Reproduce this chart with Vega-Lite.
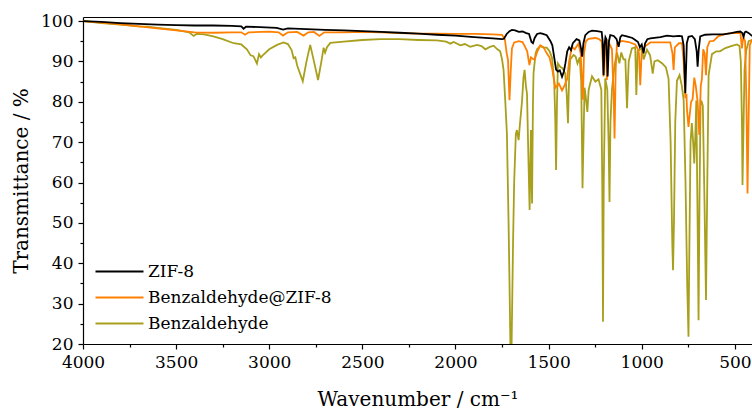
{
  "$schema": "https://vega.github.io/schema/vega-lite/v6.json",
  "width": 669,
  "height": 327,
  "autosize": {"type": "none"},
  "padding": {"left": 83, "top": 17, "right": 0, "bottom": 67},
  "background": "white",
  "config": {
    "view": {"stroke": null},
    "font": "DejaVu Serif",
    "axis": {"domainColor": "black", "domainWidth": 1.2, "tickColor": "black", "tickWidth": 1.2, "labelColor": "black", "titleColor": "black", "labelFont": "DejaVu Serif", "titleFont": "DejaVu Serif", "labelFontSize": 17, "titleFontSize": 20, "titleFontWeight": "normal", "grid": false},
    "legend": {"labelFont": "DejaVu Serif"}
  },
  "datasets": {
    "spec": [
      {"s":"Benzaldehyde","w":4000,"t":100.0},{"s":"Benzaldehyde","w":3900,"t":99.5},{"s":"Benzaldehyde","w":3800,"t":99.1},{"s":"Benzaldehyde","w":3700,"t":98.7},{"s":"Benzaldehyde","w":3656,"t":98.6},{"s":"Benzaldehyde","w":3600,"t":98.3},{"s":"Benzaldehyde","w":3500,"t":97.8},{"s":"Benzaldehyde","w":3430,"t":97.2},{"s":"Benzaldehyde","w":3406,"t":96.3},{"s":"Benzaldehyde","w":3390,"t":96.8},{"s":"Benzaldehyde","w":3350,"t":96.7},{"s":"Benzaldehyde","w":3300,"t":96.2},{"s":"Benzaldehyde","w":3250,"t":95.5},{"s":"Benzaldehyde","w":3191,"t":94.5},{"s":"Benzaldehyde","w":3150,"t":94.2},{"s":"Benzaldehyde","w":3120,"t":93.0},{"s":"Benzaldehyde","w":3100,"t":91.5},{"s":"Benzaldehyde","w":3085,"t":91.3},{"s":"Benzaldehyde","w":3066,"t":89.5},{"s":"Benzaldehyde","w":3055,"t":91.8},{"s":"Benzaldehyde","w":3045,"t":91.0},{"s":"Benzaldehyde","w":3035,"t":91.5},{"s":"Benzaldehyde","w":3000,"t":93.0},{"s":"Benzaldehyde","w":2958,"t":94.1},{"s":"Benzaldehyde","w":2923,"t":94.7},{"s":"Benzaldehyde","w":2900,"t":94.3},{"s":"Benzaldehyde","w":2880,"t":92.8},{"s":"Benzaldehyde","w":2869,"t":90.8},{"s":"Benzaldehyde","w":2860,"t":91.0},{"s":"Benzaldehyde","w":2850,"t":89.0},{"s":"Benzaldehyde","w":2820,"t":85.1},{"s":"Benzaldehyde","w":2800,"t":90.0},{"s":"Benzaldehyde","w":2780,"t":94.1},{"s":"Benzaldehyde","w":2760,"t":90.0},{"s":"Benzaldehyde","w":2738,"t":85.4},{"s":"Benzaldehyde","w":2720,"t":90.0},{"s":"Benzaldehyde","w":2708,"t":93.4},{"s":"Benzaldehyde","w":2700,"t":92.2},{"s":"Benzaldehyde","w":2690,"t":93.5},{"s":"Benzaldehyde","w":2672,"t":94.6},{"s":"Benzaldehyde","w":2600,"t":94.9},{"s":"Benzaldehyde","w":2500,"t":95.3},{"s":"Benzaldehyde","w":2404,"t":95.5},{"s":"Benzaldehyde","w":2300,"t":95.5},{"s":"Benzaldehyde","w":2200,"t":95.3},{"s":"Benzaldehyde","w":2100,"t":95.2},{"s":"Benzaldehyde","w":2050,"t":94.9},{"s":"Benzaldehyde","w":2028,"t":94.4},{"s":"Benzaldehyde","w":2010,"t":94.8},{"s":"Benzaldehyde","w":1974,"t":94.0},{"s":"Benzaldehyde","w":1950,"t":94.3},{"s":"Benzaldehyde","w":1921,"t":93.6},{"s":"Benzaldehyde","w":1885,"t":94.1},{"s":"Benzaldehyde","w":1860,"t":93.8},{"s":"Benzaldehyde","w":1840,"t":93.0},{"s":"Benzaldehyde","w":1815,"t":93.6},{"s":"Benzaldehyde","w":1795,"t":93.9},{"s":"Benzaldehyde","w":1775,"t":93.0},{"s":"Benzaldehyde","w":1760,"t":92.5},{"s":"Benzaldehyde","w":1750,"t":90.5},{"s":"Benzaldehyde","w":1742,"t":87.9},{"s":"Benzaldehyde","w":1733,"t":80.4},{"s":"Benzaldehyde","w":1724,"t":72.2},{"s":"Benzaldehyde","w":1715,"t":50.0},{"s":"Benzaldehyde","w":1710,"t":35.0},{"s":"Benzaldehyde","w":1705,"t":19.0},{"s":"Benzaldehyde","w":1699,"t":19.0},{"s":"Benzaldehyde","w":1691,"t":45.0},{"s":"Benzaldehyde","w":1685,"t":60.0},{"s":"Benzaldehyde","w":1676,"t":72.0},{"s":"Benzaldehyde","w":1670,"t":73.0},{"s":"Benzaldehyde","w":1665,"t":71.5},{"s":"Benzaldehyde","w":1661,"t":70.5},{"s":"Benzaldehyde","w":1655,"t":74.0},{"s":"Benzaldehyde","w":1643,"t":80.0},{"s":"Benzaldehyde","w":1635,"t":86.0},{"s":"Benzaldehyde","w":1629,"t":87.9},{"s":"Benzaldehyde","w":1622,"t":84.0},{"s":"Benzaldehyde","w":1616,"t":81.9},{"s":"Benzaldehyde","w":1608,"t":65.0},{"s":"Benzaldehyde","w":1602,"t":53.2},{"s":"Benzaldehyde","w":1595,"t":73.0},{"s":"Benzaldehyde","w":1589,"t":54.8},{"s":"Benzaldehyde","w":1584,"t":80.0},{"s":"Benzaldehyde","w":1581,"t":87.1},{"s":"Benzaldehyde","w":1570,"t":92.0},{"s":"Benzaldehyde","w":1562,"t":93.0},{"s":"Benzaldehyde","w":1545,"t":93.8},{"s":"Benzaldehyde","w":1527,"t":93.4},{"s":"Benzaldehyde","w":1510,"t":93.4},{"s":"Benzaldehyde","w":1495,"t":92.5},{"s":"Benzaldehyde","w":1482,"t":91.0},{"s":"Benzaldehyde","w":1470,"t":85.0},{"s":"Benzaldehyde","w":1464,"t":75.0},{"s":"Benzaldehyde","w":1460,"t":63.1},{"s":"Benzaldehyde","w":1455,"t":80.0},{"s":"Benzaldehyde","w":1450,"t":89.5},{"s":"Benzaldehyde","w":1437,"t":88.6},{"s":"Benzaldehyde","w":1425,"t":88.3},{"s":"Benzaldehyde","w":1411,"t":87.0},{"s":"Benzaldehyde","w":1403,"t":82.0},{"s":"Benzaldehyde","w":1396,"t":74.7},{"s":"Benzaldehyde","w":1390,"t":86.0},{"s":"Benzaldehyde","w":1384,"t":90.5},{"s":"Benzaldehyde","w":1366,"t":91.6},{"s":"Benzaldehyde","w":1355,"t":91.2},{"s":"Benzaldehyde","w":1345,"t":89.5},{"s":"Benzaldehyde","w":1333,"t":91.0},{"s":"Benzaldehyde","w":1325,"t":85.0},{"s":"Benzaldehyde","w":1318,"t":58.6},{"s":"Benzaldehyde","w":1311,"t":75.0},{"s":"Benzaldehyde","w":1307,"t":83.5},{"s":"Benzaldehyde","w":1300,"t":81.0},{"s":"Benzaldehyde","w":1292,"t":77.5},{"s":"Benzaldehyde","w":1285,"t":83.0},{"s":"Benzaldehyde","w":1267,"t":86.3},{"s":"Benzaldehyde","w":1249,"t":85.0},{"s":"Benzaldehyde","w":1232,"t":85.6},{"s":"Benzaldehyde","w":1217,"t":83.0},{"s":"Benzaldehyde","w":1212,"t":60.0},{"s":"Benzaldehyde","w":1208,"t":25.5},{"s":"Benzaldehyde","w":1204,"t":60.0},{"s":"Benzaldehyde","w":1196,"t":85.8},{"s":"Benzaldehyde","w":1185,"t":83.0},{"s":"Benzaldehyde","w":1178,"t":70.0},{"s":"Benzaldehyde","w":1173,"t":55.2},{"s":"Benzaldehyde","w":1168,"t":75.0},{"s":"Benzaldehyde","w":1160,"t":83.0},{"s":"Benzaldehyde","w":1146,"t":89.1},{"s":"Benzaldehyde","w":1133,"t":92.2},{"s":"Benzaldehyde","w":1120,"t":89.5},{"s":"Benzaldehyde","w":1110,"t":92.2},{"s":"Benzaldehyde","w":1098,"t":90.5},{"s":"Benzaldehyde","w":1088,"t":90.5},{"s":"Benzaldehyde","w":1079,"t":78.4},{"s":"Benzaldehyde","w":1070,"t":90.0},{"s":"Benzaldehyde","w":1053,"t":93.2},{"s":"Benzaldehyde","w":1035,"t":93.5},{"s":"Benzaldehyde","w":1029,"t":81.7},{"s":"Benzaldehyde","w":1022,"t":92.5},{"s":"Benzaldehyde","w":999,"t":93.2},{"s":"Benzaldehyde","w":990,"t":90.5},{"s":"Benzaldehyde","w":972,"t":92.9},{"s":"Benzaldehyde","w":955,"t":91.5},{"s":"Benzaldehyde","w":941,"t":87.0},{"s":"Benzaldehyde","w":932,"t":90.0},{"s":"Benzaldehyde","w":914,"t":90.3},{"s":"Benzaldehyde","w":890,"t":89.5},{"s":"Benzaldehyde","w":870,"t":88.5},{"s":"Benzaldehyde","w":856,"t":85.7},{"s":"Benzaldehyde","w":845,"t":70.0},{"s":"Benzaldehyde","w":836,"t":45.0},{"s":"Benzaldehyde","w":832,"t":38.3},{"s":"Benzaldehyde","w":827,"t":50.0},{"s":"Benzaldehyde","w":820,"t":75.0},{"s":"Benzaldehyde","w":811,"t":85.2},{"s":"Benzaldehyde","w":797,"t":86.6},{"s":"Benzaldehyde","w":785,"t":84.0},{"s":"Benzaldehyde","w":775,"t":80.5},{"s":"Benzaldehyde","w":765,"t":60.0},{"s":"Benzaldehyde","w":756,"t":35.0},{"s":"Benzaldehyde","w":749,"t":21.8},{"s":"Benzaldehyde","w":744,"t":45.0},{"s":"Benzaldehyde","w":738,"t":70.0},{"s":"Benzaldehyde","w":731,"t":74.7},{"s":"Benzaldehyde","w":724,"t":70.0},{"s":"Benzaldehyde","w":718,"t":64.7},{"s":"Benzaldehyde","w":712,"t":72.0},{"s":"Benzaldehyde","w":707,"t":80.3},{"s":"Benzaldehyde","w":700,"t":50.0},{"s":"Benzaldehyde","w":695,"t":25.9},{"s":"Benzaldehyde","w":690,"t":55.0},{"s":"Benzaldehyde","w":684,"t":80.3},{"s":"Benzaldehyde","w":678,"t":80.0},{"s":"Benzaldehyde","w":672,"t":79.0},{"s":"Benzaldehyde","w":663,"t":55.0},{"s":"Benzaldehyde","w":655,"t":30.9},{"s":"Benzaldehyde","w":648,"t":60.0},{"s":"Benzaldehyde","w":641,"t":86.6},{"s":"Benzaldehyde","w":623,"t":91.8},{"s":"Benzaldehyde","w":600,"t":92.5},{"s":"Benzaldehyde","w":580,"t":92.5},{"s":"Benzaldehyde","w":551,"t":93.3},{"s":"Benzaldehyde","w":520,"t":93.8},{"s":"Benzaldehyde","w":489,"t":94.2},{"s":"Benzaldehyde","w":475,"t":93.8},{"s":"Benzaldehyde","w":468,"t":90.0},{"s":"Benzaldehyde","w":462,"t":75.0},{"s":"Benzaldehyde","w":459,"t":59.4},{"s":"Benzaldehyde","w":455,"t":70.0},{"s":"Benzaldehyde","w":448,"t":88.0},{"s":"Benzaldehyde","w":439,"t":92.7},{"s":"Benzaldehyde","w":426,"t":95.0},{"s":"Benzaldehyde","w":407,"t":95.3},

      {"s":"Benzaldehyde@ZIF-8","w":4000,"t":100.0},{"s":"Benzaldehyde@ZIF-8","w":3900,"t":99.6},{"s":"Benzaldehyde@ZIF-8","w":3800,"t":99.2},{"s":"Benzaldehyde@ZIF-8","w":3700,"t":98.7},{"s":"Benzaldehyde@ZIF-8","w":3600,"t":98.2},{"s":"Benzaldehyde@ZIF-8","w":3500,"t":97.7},{"s":"Benzaldehyde@ZIF-8","w":3400,"t":97.2},{"s":"Benzaldehyde@ZIF-8","w":3300,"t":97.1},{"s":"Benzaldehyde@ZIF-8","w":3200,"t":97.2},{"s":"Benzaldehyde@ZIF-8","w":3150,"t":97.2},{"s":"Benzaldehyde@ZIF-8","w":3130,"t":96.6},{"s":"Benzaldehyde@ZIF-8","w":3110,"t":97.2},{"s":"Benzaldehyde@ZIF-8","w":3000,"t":97.4},{"s":"Benzaldehyde@ZIF-8","w":2950,"t":97.2},{"s":"Benzaldehyde@ZIF-8","w":2926,"t":96.4},{"s":"Benzaldehyde@ZIF-8","w":2900,"t":97.2},{"s":"Benzaldehyde@ZIF-8","w":2850,"t":97.3},{"s":"Benzaldehyde@ZIF-8","w":2816,"t":96.4},{"s":"Benzaldehyde@ZIF-8","w":2790,"t":97.2},{"s":"Benzaldehyde@ZIF-8","w":2760,"t":97.3},{"s":"Benzaldehyde@ZIF-8","w":2731,"t":96.3},{"s":"Benzaldehyde@ZIF-8","w":2705,"t":97.2},{"s":"Benzaldehyde@ZIF-8","w":2600,"t":97.2},{"s":"Benzaldehyde@ZIF-8","w":2500,"t":97.3},{"s":"Benzaldehyde@ZIF-8","w":2400,"t":97.2},{"s":"Benzaldehyde@ZIF-8","w":2300,"t":97.0},{"s":"Benzaldehyde@ZIF-8","w":2200,"t":96.9},{"s":"Benzaldehyde@ZIF-8","w":2100,"t":96.9},{"s":"Benzaldehyde@ZIF-8","w":2000,"t":96.8},{"s":"Benzaldehyde@ZIF-8","w":1900,"t":96.8},{"s":"Benzaldehyde@ZIF-8","w":1800,"t":96.7},{"s":"Benzaldehyde@ZIF-8","w":1750,"t":96.6},{"s":"Benzaldehyde@ZIF-8","w":1735,"t":95.5},{"s":"Benzaldehyde@ZIF-8","w":1725,"t":92.0},{"s":"Benzaldehyde@ZIF-8","w":1718,"t":90.3},{"s":"Benzaldehyde@ZIF-8","w":1710,"t":80.4},{"s":"Benzaldehyde@ZIF-8","w":1703,"t":88.0},{"s":"Benzaldehyde@ZIF-8","w":1697,"t":93.2},{"s":"Benzaldehyde@ZIF-8","w":1685,"t":94.7},{"s":"Benzaldehyde@ZIF-8","w":1660,"t":95.0},{"s":"Benzaldehyde@ZIF-8","w":1640,"t":94.8},{"s":"Benzaldehyde@ZIF-8","w":1625,"t":93.5},{"s":"Benzaldehyde@ZIF-8","w":1615,"t":92.5},{"s":"Benzaldehyde@ZIF-8","w":1603,"t":89.1},{"s":"Benzaldehyde@ZIF-8","w":1595,"t":91.0},{"s":"Benzaldehyde@ZIF-8","w":1584,"t":90.6},{"s":"Benzaldehyde@ZIF-8","w":1575,"t":90.5},{"s":"Benzaldehyde@ZIF-8","w":1560,"t":92.5},{"s":"Benzaldehyde@ZIF-8","w":1545,"t":94.0},{"s":"Benzaldehyde@ZIF-8","w":1527,"t":93.5},{"s":"Benzaldehyde@ZIF-8","w":1510,"t":92.0},{"s":"Benzaldehyde@ZIF-8","w":1495,"t":91.0},{"s":"Benzaldehyde@ZIF-8","w":1480,"t":88.0},{"s":"Benzaldehyde@ZIF-8","w":1464,"t":83.5},{"s":"Benzaldehyde@ZIF-8","w":1445,"t":84.5},{"s":"Benzaldehyde@ZIF-8","w":1428,"t":82.8},{"s":"Benzaldehyde@ZIF-8","w":1415,"t":84.0},{"s":"Benzaldehyde@ZIF-8","w":1401,"t":85.6},{"s":"Benzaldehyde@ZIF-8","w":1390,"t":90.0},{"s":"Benzaldehyde@ZIF-8","w":1375,"t":93.6},{"s":"Benzaldehyde@ZIF-8","w":1360,"t":93.0},{"s":"Benzaldehyde@ZIF-8","w":1340,"t":94.4},{"s":"Benzaldehyde@ZIF-8","w":1328,"t":92.0},{"s":"Benzaldehyde@ZIF-8","w":1316,"t":80.5},{"s":"Benzaldehyde@ZIF-8","w":1310,"t":92.0},{"s":"Benzaldehyde@ZIF-8","w":1300,"t":95.0},{"s":"Benzaldehyde@ZIF-8","w":1286,"t":95.6},{"s":"Benzaldehyde@ZIF-8","w":1250,"t":95.8},{"s":"Benzaldehyde@ZIF-8","w":1232,"t":95.6},{"s":"Benzaldehyde@ZIF-8","w":1215,"t":95.0},{"s":"Benzaldehyde@ZIF-8","w":1205,"t":86.3},{"s":"Benzaldehyde@ZIF-8","w":1198,"t":94.5},{"s":"Benzaldehyde@ZIF-8","w":1193,"t":95.0},{"s":"Benzaldehyde@ZIF-8","w":1187,"t":85.4},{"s":"Benzaldehyde@ZIF-8","w":1180,"t":94.8},{"s":"Benzaldehyde@ZIF-8","w":1170,"t":94.0},{"s":"Benzaldehyde@ZIF-8","w":1160,"t":93.0},{"s":"Benzaldehyde@ZIF-8","w":1150,"t":80.0},{"s":"Benzaldehyde@ZIF-8","w":1146,"t":70.9},{"s":"Benzaldehyde@ZIF-8","w":1140,"t":88.0},{"s":"Benzaldehyde@ZIF-8","w":1133,"t":94.5},{"s":"Benzaldehyde@ZIF-8","w":1106,"t":95.1},{"s":"Benzaldehyde@ZIF-8","w":1070,"t":94.8},{"s":"Benzaldehyde@ZIF-8","w":1035,"t":94.2},{"s":"Benzaldehyde@ZIF-8","w":1020,"t":93.0},{"s":"Benzaldehyde@ZIF-8","w":1015,"t":92.0},{"s":"Benzaldehyde@ZIF-8","w":1008,"t":84.1},{"s":"Benzaldehyde@ZIF-8","w":1000,"t":92.5},{"s":"Benzaldehyde@ZIF-8","w":985,"t":93.6},{"s":"Benzaldehyde@ZIF-8","w":954,"t":94.7},{"s":"Benzaldehyde@ZIF-8","w":847,"t":94.7},{"s":"Benzaldehyde@ZIF-8","w":835,"t":92.0},{"s":"Benzaldehyde@ZIF-8","w":829,"t":87.9},{"s":"Benzaldehyde@ZIF-8","w":822,"t":93.5},{"s":"Benzaldehyde@ZIF-8","w":800,"t":94.5},{"s":"Benzaldehyde@ZIF-8","w":784,"t":94.5},{"s":"Benzaldehyde@ZIF-8","w":775,"t":90.0},{"s":"Benzaldehyde@ZIF-8","w":766,"t":80.9},{"s":"Benzaldehyde@ZIF-8","w":760,"t":82.0},{"s":"Benzaldehyde@ZIF-8","w":757,"t":78.0},{"s":"Benzaldehyde@ZIF-8","w":749,"t":73.8},{"s":"Benzaldehyde@ZIF-8","w":742,"t":77.0},{"s":"Benzaldehyde@ZIF-8","w":735,"t":80.0},{"s":"Benzaldehyde@ZIF-8","w":727,"t":80.6},{"s":"Benzaldehyde@ZIF-8","w":718,"t":86.0},{"s":"Benzaldehyde@ZIF-8","w":710,"t":84.0},{"s":"Benzaldehyde@ZIF-8","w":700,"t":80.0},{"s":"Benzaldehyde@ZIF-8","w":691,"t":71.8},{"s":"Benzaldehyde@ZIF-8","w":683,"t":84.0},{"s":"Benzaldehyde@ZIF-8","w":677,"t":85.6},{"s":"Benzaldehyde@ZIF-8","w":670,"t":93.0},{"s":"Benzaldehyde@ZIF-8","w":662,"t":92.0},{"s":"Benzaldehyde@ZIF-8","w":655,"t":86.6},{"s":"Benzaldehyde@ZIF-8","w":648,"t":93.5},{"s":"Benzaldehyde@ZIF-8","w":635,"t":95.0},{"s":"Benzaldehyde@ZIF-8","w":614,"t":95.1},{"s":"Benzaldehyde@ZIF-8","w":590,"t":96.2},{"s":"Benzaldehyde@ZIF-8","w":561,"t":96.7},{"s":"Benzaldehyde@ZIF-8","w":520,"t":97.0},{"s":"Benzaldehyde@ZIF-8","w":489,"t":97.1},{"s":"Benzaldehyde@ZIF-8","w":470,"t":97.0},{"s":"Benzaldehyde@ZIF-8","w":462,"t":93.2},{"s":"Benzaldehyde@ZIF-8","w":455,"t":96.0},{"s":"Benzaldehyde@ZIF-8","w":445,"t":95.0},{"s":"Benzaldehyde@ZIF-8","w":438,"t":80.0},{"s":"Benzaldehyde@ZIF-8","w":432,"t":57.3},{"s":"Benzaldehyde@ZIF-8","w":428,"t":70.0},{"s":"Benzaldehyde@ZIF-8","w":420,"t":94.0},{"s":"Benzaldehyde@ZIF-8","w":407,"t":95.5},

      {"s":"ZIF-8","w":4000,"t":100.0},{"s":"ZIF-8","w":3900,"t":99.8},{"s":"ZIF-8","w":3800,"t":99.5},{"s":"ZIF-8","w":3700,"t":99.3},{"s":"ZIF-8","w":3600,"t":99.1},{"s":"ZIF-8","w":3500,"t":99.0},{"s":"ZIF-8","w":3400,"t":98.9},{"s":"ZIF-8","w":3300,"t":98.9},{"s":"ZIF-8","w":3200,"t":98.8},{"s":"ZIF-8","w":3150,"t":98.7},{"s":"ZIF-8","w":3138,"t":98.1},{"s":"ZIF-8","w":3125,"t":98.6},{"s":"ZIF-8","w":3050,"t":98.5},{"s":"ZIF-8","w":2960,"t":98.3},{"s":"ZIF-8","w":2926,"t":97.9},{"s":"ZIF-8","w":2900,"t":98.2},{"s":"ZIF-8","w":2800,"t":98.0},{"s":"ZIF-8","w":2700,"t":97.8},{"s":"ZIF-8","w":2600,"t":97.7},{"s":"ZIF-8","w":2500,"t":97.5},{"s":"ZIF-8","w":2400,"t":97.3},{"s":"ZIF-8","w":2300,"t":97.1},{"s":"ZIF-8","w":2200,"t":96.9},{"s":"ZIF-8","w":2100,"t":96.6},{"s":"ZIF-8","w":2000,"t":96.4},{"s":"ZIF-8","w":1900,"t":96.0},{"s":"ZIF-8","w":1800,"t":95.7},{"s":"ZIF-8","w":1750,"t":95.5},{"s":"ZIF-8","w":1740,"t":95.6},{"s":"ZIF-8","w":1725,"t":96.8},{"s":"ZIF-8","w":1710,"t":97.5},{"s":"ZIF-8","w":1697,"t":97.8},{"s":"ZIF-8","w":1680,"t":97.7},{"s":"ZIF-8","w":1660,"t":97.3},{"s":"ZIF-8","w":1640,"t":97.4},{"s":"ZIF-8","w":1620,"t":97.0},{"s":"ZIF-8","w":1605,"t":96.8},{"s":"ZIF-8","w":1592,"t":94.8},{"s":"ZIF-8","w":1584,"t":94.5},{"s":"ZIF-8","w":1575,"t":95.8},{"s":"ZIF-8","w":1562,"t":96.8},{"s":"ZIF-8","w":1545,"t":97.0},{"s":"ZIF-8","w":1530,"t":96.8},{"s":"ZIF-8","w":1510,"t":96.5},{"s":"ZIF-8","w":1490,"t":95.0},{"s":"ZIF-8","w":1480,"t":94.0},{"s":"ZIF-8","w":1470,"t":91.0},{"s":"ZIF-8","w":1460,"t":88.0},{"s":"ZIF-8","w":1450,"t":87.5},{"s":"ZIF-8","w":1440,"t":87.8},{"s":"ZIF-8","w":1428,"t":86.2},{"s":"ZIF-8","w":1418,"t":87.5},{"s":"ZIF-8","w":1410,"t":89.5},{"s":"ZIF-8","w":1400,"t":92.5},{"s":"ZIF-8","w":1390,"t":93.5},{"s":"ZIF-8","w":1380,"t":92.8},{"s":"ZIF-8","w":1370,"t":94.5},{"s":"ZIF-8","w":1350,"t":95.5},{"s":"ZIF-8","w":1335,"t":95.2},{"s":"ZIF-8","w":1325,"t":93.0},{"s":"ZIF-8","w":1320,"t":91.2},{"s":"ZIF-8","w":1313,"t":94.5},{"s":"ZIF-8","w":1303,"t":96.5},{"s":"ZIF-8","w":1285,"t":97.3},{"s":"ZIF-8","w":1267,"t":97.6},{"s":"ZIF-8","w":1240,"t":97.5},{"s":"ZIF-8","w":1215,"t":97.3},{"s":"ZIF-8","w":1210,"t":95.0},{"s":"ZIF-8","w":1205,"t":86.6},{"s":"ZIF-8","w":1200,"t":94.0},{"s":"ZIF-8","w":1195,"t":96.0},{"s":"ZIF-8","w":1190,"t":95.5},{"s":"ZIF-8","w":1183,"t":86.3},{"s":"ZIF-8","w":1176,"t":95.0},{"s":"ZIF-8","w":1169,"t":96.5},{"s":"ZIF-8","w":1150,"t":96.3},{"s":"ZIF-8","w":1135,"t":95.5},{"s":"ZIF-8","w":1124,"t":93.6},{"s":"ZIF-8","w":1115,"t":96.0},{"s":"ZIF-8","w":1106,"t":96.5},{"s":"ZIF-8","w":1080,"t":96.2},{"s":"ZIF-8","w":1050,"t":95.8},{"s":"ZIF-8","w":1035,"t":95.3},{"s":"ZIF-8","w":1020,"t":94.8},{"s":"ZIF-8","w":1010,"t":93.5},{"s":"ZIF-8","w":1000,"t":94.2},{"s":"ZIF-8","w":990,"t":92.0},{"s":"ZIF-8","w":982,"t":94.5},{"s":"ZIF-8","w":970,"t":95.5},{"s":"ZIF-8","w":954,"t":95.7},{"s":"ZIF-8","w":900,"t":96.0},{"s":"ZIF-8","w":864,"t":96.4},{"s":"ZIF-8","w":830,"t":96.2},{"s":"ZIF-8","w":800,"t":96.3},{"s":"ZIF-8","w":784,"t":96.2},{"s":"ZIF-8","w":775,"t":94.0},{"s":"ZIF-8","w":766,"t":82.1},{"s":"ZIF-8","w":758,"t":94.5},{"s":"ZIF-8","w":749,"t":96.1},{"s":"ZIF-8","w":730,"t":96.3},{"s":"ZIF-8","w":715,"t":95.5},{"s":"ZIF-8","w":705,"t":92.5},{"s":"ZIF-8","w":700,"t":88.7},{"s":"ZIF-8","w":694,"t":93.0},{"s":"ZIF-8","w":686,"t":96.2},{"s":"ZIF-8","w":660,"t":96.6},{"s":"ZIF-8","w":620,"t":96.7},{"s":"ZIF-8","w":561,"t":96.7},{"s":"ZIF-8","w":520,"t":97.0},{"s":"ZIF-8","w":489,"t":97.3},{"s":"ZIF-8","w":471,"t":97.4},{"s":"ZIF-8","w":460,"t":97.0},{"s":"ZIF-8","w":453,"t":96.1},{"s":"ZIF-8","w":447,"t":97.2},{"s":"ZIF-8","w":440,"t":97.4},{"s":"ZIF-8","w":425,"t":97.0},{"s":"ZIF-8","w":407,"t":96.3}
    ]
  },
  "data": {"name": "spec"},
  "resolve": {"axis": {"x": "independent"}},
  "layer": [
    {
      "mark": {"type": "line", "strokeWidth": 1.8, "clip": true},
      "encoding": {
        "x": {
          "field": "w", "type": "quantitative",
          "scale": {"domain": [4000, 408], "nice": false, "zero": false},
          "axis": {
            "title": "Wavenumber / cm⁻¹",
            "values": [4000, 3750, 3500, 3250, 3000, 2750, 2500, 2250, 2000, 1750, 1500, 1250, 1000, 750, 500],
            "format": "d",
            "labelExpr": "datum.value % 500 === 0 ? datum.label : ''",
            "tickSize": {"condition": {"test": "datum.value % 500 !== 0", "value": 3}, "value": 5},
            "labelPadding": 5,
            "titlePadding": 19,
            "labelFlush": false
          }
        },
        "y": {
          "field": "t", "type": "quantitative",
          "scale": {"domain": [20, 101], "nice": false, "zero": false},
          "axis": {
            "title": "Transmittance / %",
            "values": [20, 25, 30, 35, 40, 45, 50, 55, 60, 65, 70, 75, 80, 85, 90, 95, 100],
            "labelExpr": "datum.value % 10 === 0 ? datum.label : ''",
            "tickSize": {"condition": {"test": "datum.value % 10 !== 0", "value": 3}, "value": 5},
            "labelPadding": 5,
            "titlePadding": 9,
            "labelFlush": false
          }
        },
        "color": {
          "field": "s", "type": "nominal",
          "scale": {"domain": ["ZIF-8", "Benzaldehyde@ZIF-8", "Benzaldehyde"], "range": ["#000000", "#FF8000", "#A8A01C"]},
          "legend": {
            "title": null, "orient": "none", "legendX": 28, "legendY": 246,
            "symbolType": "M-4,0H4", "symbolSize": 144, "symbolStrokeWidth": 2,
            "labelFontSize": 17, "labelFont": "DejaVu Serif", "labelColor": "black", "labelOffset": 20, "rowPadding": 8, "labelLimit": 400
          }
        }
      }
    },
    {
      "transform": [{"filter": "false"}],
      "mark": {"type": "point"},
      "encoding": {
        "x": {
          "field": "w", "type": "quantitative",
          "axis": {"orient": "top", "labels": false, "ticks": false, "title": null, "domainColor": "black", "domainWidth": 1.2}
        }
      }
    }
  ]
}
